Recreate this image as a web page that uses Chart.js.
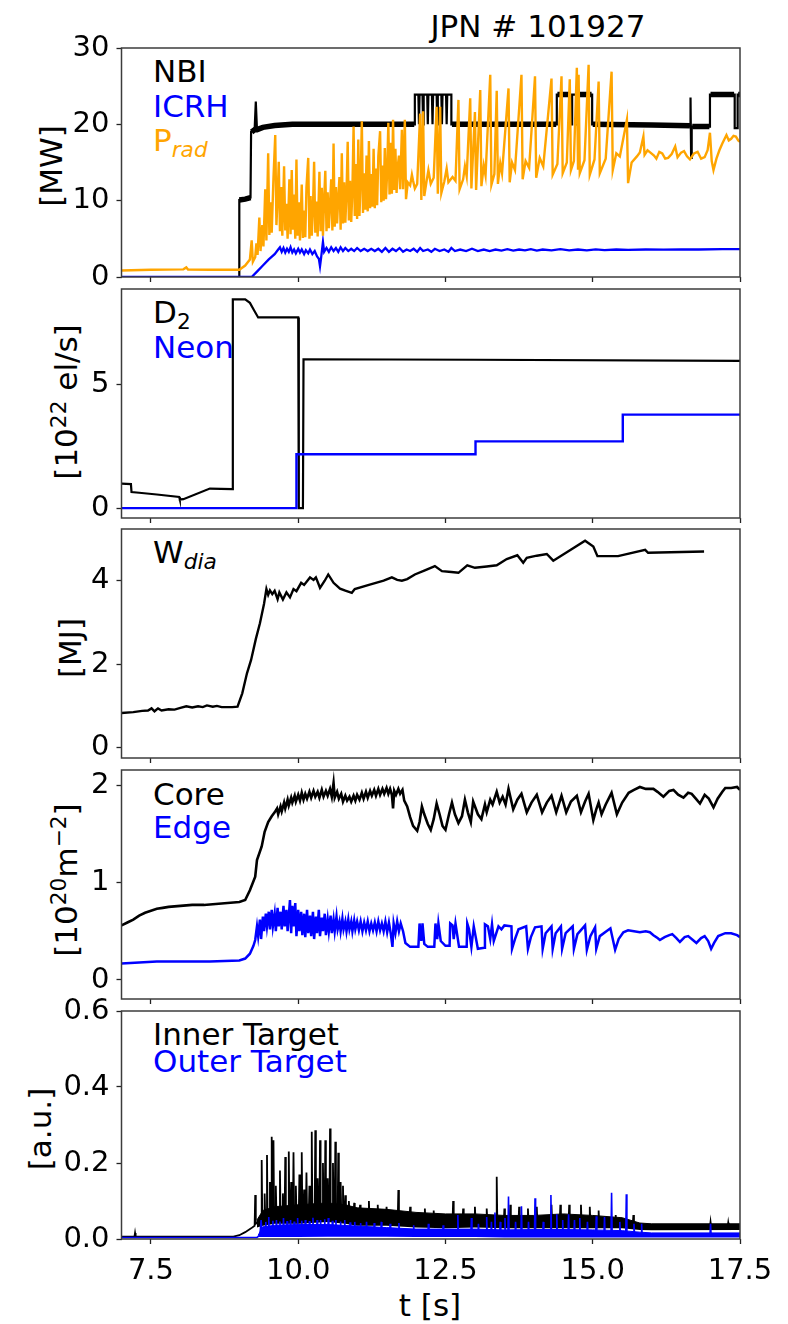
<!DOCTYPE html>
<html><head><meta charset="utf-8">
<script src="https://cdn.jsdelivr.net/npm/chart.js@4.4.0/dist/chart.umd.min.js"></script>
<style>
html,body{margin:0;padding:0;background:#fff;}
body{width:788px;height:1324px;position:relative;overflow:hidden;font-family:"DejaVu Sans",sans-serif;color:#000;}
canvas{position:absolute;left:0;}
.t{position:absolute;font-size:31px;line-height:1;white-space:nowrap;}
.yl{position:absolute;font-size:31px;line-height:1;white-space:nowrap;transform:translate(-50%,-50%) rotate(-90deg);}
sub{font-size:0.7em;vertical-align:-0.28em;line-height:0;}
sup{font-size:0.7em;vertical-align:0.5em;line-height:0;}
.blue{color:#0000ff}.orange{color:#ffa500}
</style></head>
<body>
<div class="t" style="left:338px;width:400px;text-align:center;top:10.5px;">JPN # 101927</div>
<div class="t" style="left:153px;top:55.5px;">NBI</div>
<div class="t blue" style="left:153px;top:90.5px;">ICRH</div>
<div class="t orange" style="left:153px;top:124.5px;">P<sub><i>rad</i></sub></div>
<div class="t" style="left:153px;top:297px;">D<sub>2</sub></div>
<div class="t blue" style="left:153px;top:332px;">Neon</div>
<div class="t" style="left:153px;top:537px;">W<sub><i>dia</i></sub></div>
<div class="t" style="left:153px;top:779px;">Core</div>
<div class="t blue" style="left:153px;top:812px;">Edge</div>
<div class="t" style="left:153px;top:1019px;">Inner Target</div>
<div class="t blue" style="left:153px;top:1045.5px;">Outer Target</div>
<div class="t" style="left:230px;width:400px;text-align:center;top:1290px;">t [s]</div>
<div class="yl" style="left:51px;top:166px;">[MW]</div>
<div class="yl" style="left:66px;top:402px;">[10<sup>22</sup> el/s]</div>
<div class="yl" style="left:70px;top:648px;">[MJ]</div>
<div class="yl" style="left:66px;top:880px;">[10<sup>20</sup>m<sup>−2</sup>]</div>
<div class="yl" style="left:40px;top:1129px;">[a.u.]</div>
<script>
// ---------- data (time [s], value) ----------
const xTicks = [7.5, 10.0, 12.5, 15.0, 17.5];
const y1Ticks = [0, 10, 20, 30];
const y2Ticks = [0, 5];
const y3Ticks = [0, 2, 4];
const y4Ticks = [0, 1, 2];
const y5Ticks = [0, 0.2, 0.4, 0.6];

const nbi = [[7.0,0],[9.0,0],[9.0,10.1],[9.1,10.2],[9.19,10.4],[9.2,19.0],[9.26,19.3],[9.28,23.0],[9.3,19.3],[9.4,19.6],[9.6,19.85],[9.9,20.0],[11.98,20.0],[11.98,23.9],[12.04,23.9],[12.05,20.0],[12.06,23.9],[12.11,23.9],[12.12,20.0],[12.13,23.9],[12.19,23.9],[12.2,20.0],[12.21,23.9],[12.27,23.9],[12.28,20.0],[12.29,23.9],[12.35,23.9],[12.36,20.0],[12.37,23.9],[12.43,23.9],[12.44,20.0],[12.45,23.9],[12.51,23.9],[12.52,20.0],[12.53,23.9],[12.6,23.9],[12.6,20.0],[14.39,20.0],[14.39,23.9],[14.63,23.9],[14.63,20.0],[14.65,20.0],[14.65,23.9],[14.72,23.9],[14.72,20.0],[14.76,20.0],[14.76,23.9],[14.99,23.9],[14.99,20.0],[16.0,19.9],[16.66,19.8],[16.66,23.5],[16.67,15.6],[16.68,19.7],[16.99,19.7],[16.99,23.9],[17.41,23.9],[17.41,19.5],[17.46,19.5],[17.46,23.9],[17.5,23.9]];
// steady NBI plateaus, where the fast beam modulation makes the trace a thick band (null = no plateau)
const nbiPlateau = [[9.0,10.1],[9.1,10.2],[9.19,10.4],null,[9.21,19.0],[9.26,19.3],[9.3,19.3],[9.4,19.6],[9.6,19.85],[9.9,20.0],[11.97,20.0],null,[12.61,20.0],[14.38,20.0],null,[14.4,23.9],[14.62,23.9],null,[14.77,23.9],[14.98,23.9],null,[15.0,20.0],[16.0,19.9],[16.65,19.8],null,[16.69,19.7],[16.98,19.7],null,[17.0,23.9],[17.4,23.9],null,[17.47,23.9],[17.5,23.9]];

const icrh = [[7.0,0],[9.21,0],[9.3,0.7],[9.4,1.5],[9.5,2.3],[9.6,3.0],[9.66,3.6],[9.69,3.9],[9.72,3.3],[9.75,3.8],[9.78,3.2],[9.81,3.7],[9.84,3.3],[9.87,3.9],[9.9,3.2],[9.93,3.6],[9.96,3.1],[10.0,3.7],[10.03,3.2],[10.06,3.6],[10.1,3.0],[10.13,3.5],[10.17,3.1],[10.2,3.6],[10.24,3.0],[10.28,3.4],[10.32,2.7],[10.35,2.4],[10.37,1.4],[10.39,2.6],[10.42,4.6],[10.44,3.3],[10.48,3.8],[10.52,3.3],[10.56,3.9],[10.6,3.4],[10.64,3.8],[10.68,3.3],[10.72,3.9],[10.76,3.4],[10.8,3.8],[10.85,3.4],[10.9,3.7],[10.95,3.4],[11.0,3.8],[11.06,3.4],[11.12,3.7],[11.18,3.4],[11.24,3.7],[11.3,3.4],[11.36,3.7],[11.42,3.3],[11.48,3.8],[11.54,3.3],[11.6,3.7],[11.66,3.4],[11.72,3.8],[11.78,3.3],[11.84,3.6],[11.9,3.4],[11.96,3.7],[12.02,3.3],[12.07,3.8],[12.12,3.4],[12.2,3.6],[12.26,3.3],[12.32,3.7],[12.4,3.4],[12.48,3.6],[12.55,3.3],[12.6,3.8],[12.66,3.4],[12.75,3.6],[12.85,3.4],[12.95,3.7],[13.05,3.4],[13.15,3.6],[13.25,3.4],[13.35,3.6],[13.45,3.45],[13.55,3.65],[13.65,3.45],[13.75,3.6],[13.85,3.5],[13.95,3.65],[14.05,3.45],[14.15,3.6],[14.3,3.5],[14.45,3.65],[14.6,3.5],[14.75,3.6],[14.9,3.5],[15.05,3.62],[15.2,3.52],[15.4,3.6],[15.6,3.55],[15.9,3.6],[16.2,3.58],[16.5,3.6],[16.8,3.6],[17.2,3.66],[17.5,3.66]];

const prad = [[7.0,0.85],[7.5,0.95],[8.05,1.0],[8.1,1.25],[8.13,0.97],[8.5,0.95],[9.0,0.95],[9.1,1.5],[9.18,2.3],[9.21,4.8],[9.23,2.0],[9.27,2.6],[9.29,4.4],[9.31,2.9],[9.34,7.8],[9.36,3.4],[9.39,6.8],[9.41,4.0],[9.44,11.5],[9.46,4.8],[9.49,16.2],[9.51,5.5],[9.53,9.8],[9.55,5.8],[9.58,13.0],[9.61,18.6],[9.63,6.8],[9.65,10.5],[9.67,15.1],[9.69,6.0],[9.71,11.8],[9.73,5.4],[9.76,14.5],[9.78,6.1],[9.8,9.6],[9.82,5.0],[9.85,12.8],[9.87,5.6],[9.89,14.0],[9.91,6.2],[9.93,10.8],[9.95,5.0],[9.97,15.4],[9.99,5.4],[10.01,9.8],[10.03,4.8],[10.06,12.1],[10.08,5.1],[10.1,8.7],[10.12,5.2],[10.14,11.8],[10.17,15.6],[10.19,5.0],[10.21,10.6],[10.23,5.4],[10.25,8.9],[10.27,15.1],[10.29,5.8],[10.31,9.9],[10.33,5.3],[10.36,13.8],[10.38,6.0],[10.4,11.7],[10.42,5.4],[10.44,10.2],[10.46,13.9],[10.48,6.0],[10.5,11.1],[10.52,6.4],[10.54,9.6],[10.56,12.8],[10.58,6.1],[10.6,17.5],[10.62,6.6],[10.64,11.8],[10.66,7.0],[10.68,10.4],[10.7,13.1],[10.72,6.2],[10.74,16.2],[10.76,7.0],[10.78,12.4],[10.8,7.1],[10.82,11.0],[10.84,17.7],[10.86,7.4],[10.88,12.6],[10.9,7.2],[10.92,11.5],[10.94,19.7],[10.96,8.0],[10.98,14.8],[11.0,7.6],[11.02,18.0],[11.04,8.0],[11.06,12.8],[11.08,20.4],[11.1,8.4],[11.12,13.6],[11.14,8.8],[11.16,15.9],[11.18,8.6],[11.2,17.8],[11.22,9.0],[11.24,13.5],[11.26,9.2],[11.28,16.8],[11.3,9.0],[11.32,14.2],[11.34,9.4],[11.36,15.8],[11.39,19.1],[11.41,9.8],[11.43,14.6],[11.45,10.0],[11.47,16.9],[11.49,10.2],[11.51,13.8],[11.53,20.2],[11.55,10.8],[11.57,17.6],[11.59,10.9],[11.61,20.6],[11.63,11.4],[11.65,16.8],[11.67,11.0],[11.69,14.5],[11.71,15.9],[11.73,11.5],[11.76,19.3],[11.78,11.5],[11.81,20.6],[11.83,10.2],[11.86,12.4],[11.9,12.0],[11.93,13.4],[11.95,12.6],[11.98,11.6],[12.02,12.2],[12.07,21.4],[12.09,10.1],[12.12,21.7],[12.14,10.6],[12.18,12.6],[12.21,14.0],[12.25,12.2],[12.3,13.0],[12.35,22.3],[12.37,10.9],[12.41,22.3],[12.43,11.0],[12.48,12.5],[12.52,14.2],[12.55,12.4],[12.62,13.1],[12.67,12.6],[12.72,23.2],[12.74,11.5],[12.8,12.8],[12.83,14.5],[12.86,13.2],[12.92,23.4],[12.94,11.6],[13.0,21.6],[13.02,11.4],[13.09,24.5],[13.11,11.9],[13.15,14.6],[13.18,13.3],[13.26,26.5],[13.28,12.1],[13.33,13.5],[13.37,24.4],[13.39,12.2],[13.43,14.9],[13.46,13.6],[13.57,24.7],[13.59,12.4],[13.63,15.0],[13.68,14.0],[13.79,26.5],[13.81,12.8],[13.86,15.2],[13.92,14.3],[14.02,26.3],[14.04,13.0],[14.1,15.6],[14.16,14.5],[14.3,26.0],[14.32,13.4],[14.4,14.8],[14.47,26.3],[14.49,13.6],[14.56,15.0],[14.61,25.9],[14.63,14.0],[14.68,15.2],[14.73,27.4],[14.75,14.2],[14.76,26.5],[14.78,13.6],[14.86,15.3],[14.93,27.8],[14.95,13.4],[15.03,15.4],[15.1,25.6],[15.12,13.6],[15.22,15.5],[15.32,26.9],[15.34,14.0],[15.4,16.2],[15.46,15.8],[15.58,20.6],[15.6,12.3],[15.66,15.0],[15.75,15.8],[15.8,16.3],[15.86,18.4],[15.88,16.0],[15.93,16.6],[15.98,16.3],[16.04,15.9],[16.08,15.5],[16.13,16.4],[16.18,16.2],[16.23,15.5],[16.28,15.6],[16.34,16.1],[16.4,17.1],[16.44,15.7],[16.5,16.3],[16.55,16.5],[16.6,15.8],[16.65,15.4],[16.72,16.2],[16.78,16.4],[16.84,15.5],[16.9,15.7],[16.95,16.6],[16.99,18.9],[17.02,15.2],[17.05,14.0],[17.1,15.5],[17.15,16.6],[17.2,17.5],[17.27,18.6],[17.31,17.9],[17.35,18.1],[17.39,18.5],[17.43,18.4],[17.47,17.9],[17.5,17.7]];

const d2 = [[7.0,0.99],[7.16,0.97],[7.17,0.65],[7.3,0.62],[7.6,0.55],[7.98,0.45],[7.99,0.35],[8.05,0.36],[8.5,0.79],[8.88,0.77],[8.89,8.44],[9.1,8.44],[9.18,8.3],[9.25,8.0],[9.32,7.71],[10.0,7.71],[10.01,0.0],[10.08,0.0],[10.09,6.02],[13.0,6.0],[17.5,5.95]];
const neon = [[7.0,0],[9.97,0],[9.97,2.18],[13.01,2.18],[13.01,2.70],[15.51,2.70],[15.51,3.78],[17.5,3.78]];

const wdia = [[7.0,0.83],[7.2,0.85],[7.35,0.88],[7.45,0.89],[7.51,0.94],[7.56,0.87],[7.62,0.94],[7.68,0.89],[7.8,0.92],[7.9,0.91],[8.0,0.95],[8.1,0.99],[8.2,0.96],[8.3,0.99],[8.38,0.97],[8.45,1.01],[8.55,0.98],[8.62,1.0],[8.7,0.97],[8.88,0.97],[8.97,0.98],[9.05,1.3],[9.13,1.78],[9.2,2.1],[9.28,2.6],[9.35,2.98],[9.42,3.45],[9.46,3.8],[9.49,3.66],[9.52,3.77],[9.56,3.68],[9.6,3.76],[9.65,3.56],[9.68,3.72],[9.74,3.55],[9.8,3.72],[9.86,3.6],[9.92,3.8],[9.97,3.75],[10.05,3.95],[10.1,3.9],[10.2,4.08],[10.26,4.02],[10.3,4.08],[10.37,3.83],[10.45,4.0],[10.51,4.15],[10.6,3.95],[10.71,3.81],[10.8,3.76],[10.91,3.71],[10.96,3.8],[11.2,3.9],[11.45,4.0],[11.59,4.08],[11.68,4.02],[11.76,4.0],[11.85,4.04],[11.98,4.15],[12.15,4.25],[12.32,4.35],[12.44,4.23],[12.6,4.21],[12.72,4.19],[12.87,4.37],[13.0,4.31],[13.2,4.34],[13.37,4.37],[13.54,4.52],[13.72,4.61],[13.82,4.43],[13.88,4.55],[14.05,4.6],[14.22,4.64],[14.33,4.48],[14.6,4.72],[14.87,4.96],[15.01,4.82],[15.08,4.59],[15.43,4.59],[15.89,4.74],[15.94,4.67],[16.89,4.7]];

const core = [[7.0,0.56],[7.1,0.59],[7.2,0.62],[7.3,0.66],[7.4,0.69],[7.5,0.71],[7.6,0.73],[7.7,0.74],[7.8,0.75],[8.0,0.76],[8.2,0.77],[8.4,0.77],[8.6,0.78],[8.8,0.79],[9.0,0.80],[9.1,0.82],[9.18,0.92],[9.27,1.06],[9.3,1.23],[9.38,1.37],[9.43,1.52],[9.49,1.62],[9.55,1.68],[9.6,1.72],[9.64,1.76],[9.66,1.70],[9.7,1.78],[9.72,1.73],[9.76,1.82],[9.78,1.76],[9.82,1.85],[9.84,1.79],[9.88,1.87],[9.9,1.82],[9.94,1.89],[9.96,1.83],[10.0,1.90],[10.03,1.84],[10.06,1.92],[10.09,1.85],[10.12,1.91],[10.15,1.86],[10.19,1.93],[10.22,1.87],[10.26,1.94],[10.29,1.88],[10.33,1.93],[10.36,1.87],[10.4,1.95],[10.43,1.88],[10.47,1.94],[10.5,1.89],[10.54,1.96],[10.57,1.88],[10.6,2.02],[10.62,1.87],[10.66,1.93],[10.69,1.86],[10.73,1.91],[10.76,1.83],[10.8,1.89],[10.83,1.84],[10.87,1.88],[10.9,1.83],[10.94,1.89],[10.97,1.84],[11.0,1.90],[11.04,1.85],[11.08,1.92],[11.11,1.86],[11.15,1.93],[11.18,1.87],[11.22,1.94],[11.25,1.89],[11.29,1.95],[11.32,1.89],[11.36,1.96],[11.39,1.90],[11.43,1.96],[11.46,1.91],[11.5,1.97],[11.53,1.91],[11.56,1.96],[11.59,1.90],[11.61,1.76],[11.63,1.94],[11.66,1.90],[11.7,1.96],[11.73,1.91],[11.77,1.95],[11.8,1.84],[11.85,1.78],[11.9,1.67],[11.95,1.58],[12.02,1.53],[12.06,1.62],[12.1,1.78],[12.14,1.70],[12.2,1.60],[12.25,1.54],[12.3,1.65],[12.35,1.81],[12.4,1.70],[12.45,1.58],[12.5,1.54],[12.56,1.70],[12.61,1.82],[12.66,1.70],[12.72,1.61],[12.78,1.68],[12.83,1.85],[12.88,1.72],[12.93,1.62],[12.97,1.83],[13.05,1.70],[13.11,1.65],[13.17,1.80],[13.2,1.72],[13.26,1.85],[13.3,1.80],[13.37,1.93],[13.42,1.82],[13.47,1.88],[13.52,1.80],[13.57,1.96],[13.65,1.75],[13.72,1.85],[13.79,1.91],[13.88,1.72],[13.96,1.82],[14.05,1.90],[14.14,1.72],[14.22,1.82],[14.3,1.89],[14.38,1.72],[14.47,1.89],[14.55,1.72],[14.63,1.83],[14.73,1.89],[14.8,1.72],[14.87,1.83],[14.93,1.91],[15.01,1.64],[15.06,1.75],[15.1,1.82],[15.15,1.70],[15.22,1.80],[15.32,1.92],[15.41,1.70],[15.5,1.82],[15.61,1.92],[15.7,1.95],[15.8,1.98],[15.9,1.96],[16.03,1.96],[16.1,1.93],[16.2,1.88],[16.3,1.94],[16.37,1.95],[16.45,1.90],[16.54,1.87],[16.62,1.92],[16.68,1.91],[16.75,1.86],[16.82,1.81],[16.9,1.90],[16.97,1.86],[17.05,1.77],[17.12,1.86],[17.2,1.93],[17.25,1.97],[17.35,1.97],[17.45,1.98],[17.5,1.95]];

const edge = [[7.0,0.17],[7.3,0.18],[7.6,0.19],[8.0,0.19],[8.5,0.19],[9.0,0.20],[9.1,0.22],[9.18,0.27],[9.24,0.35],[9.27,0.41],[9.3,0.55],[9.32,0.45],[9.35,0.62],[9.37,0.42],[9.4,0.65],[9.42,0.50],[9.45,0.68],[9.47,0.55],[9.5,0.70],[9.52,0.52],[9.55,0.72],[9.57,0.55],[9.6,0.68],[9.62,0.50],[9.65,0.74],[9.67,0.55],[9.7,0.70],[9.72,0.52],[9.75,0.76],[9.77,0.55],[9.8,0.72],[9.82,0.50],[9.86,0.82],[9.88,0.48],[9.9,0.76],[9.92,0.55],[9.95,0.79],[9.97,0.45],[10.0,0.72],[10.02,0.50],[10.05,0.70],[10.07,0.46],[10.1,0.68],[10.12,0.44],[10.15,0.72],[10.17,0.48],[10.2,0.66],[10.22,0.45],[10.25,0.70],[10.27,0.42],[10.3,0.65],[10.32,0.48],[10.35,0.72],[10.37,0.45],[10.4,0.64],[10.42,0.50],[10.45,0.68],[10.47,0.46],[10.5,0.62],[10.52,0.50],[10.55,0.66],[10.57,0.48],[10.6,0.62],[10.62,0.50],[10.65,0.65],[10.67,0.52],[10.7,0.60],[10.72,0.50],[10.75,0.63],[10.77,0.52],[10.8,0.60],[10.82,0.50],[10.85,0.62],[10.87,0.52],[10.9,0.60],[10.92,0.50],[10.95,0.61],[10.97,0.52],[11.0,0.60],[11.03,0.51],[11.06,0.60],[11.09,0.50],[11.12,0.59],[11.15,0.51],[11.18,0.60],[11.21,0.50],[11.24,0.58],[11.27,0.51],[11.3,0.59],[11.33,0.50],[11.36,0.60],[11.39,0.51],[11.42,0.58],[11.45,0.50],[11.48,0.60],[11.51,0.49],[11.54,0.59],[11.57,0.48],[11.6,0.34],[11.62,0.58],[11.65,0.48],[11.68,0.60],[11.71,0.50],[11.74,0.58],[11.78,0.50],[11.82,0.38],[11.9,0.34],[12.04,0.34],[12.06,0.58],[12.09,0.40],[12.11,0.58],[12.14,0.37],[12.2,0.34],[12.31,0.34],[12.33,0.58],[12.36,0.42],[12.38,0.58],[12.42,0.40],[12.5,0.35],[12.57,0.35],[12.58,0.58],[12.62,0.56],[12.64,0.42],[12.67,0.58],[12.73,0.34],[12.86,0.34],[12.87,0.58],[12.9,0.52],[12.94,0.34],[12.98,0.55],[13.05,0.32],[13.16,0.33],[13.17,0.57],[13.22,0.55],[13.26,0.42],[13.29,0.57],[13.32,0.40],[13.40,0.55],[13.45,0.52],[13.5,0.56],[13.62,0.55],[13.63,0.32],[13.68,0.42],[13.74,0.52],[13.87,0.55],[13.9,0.32],[13.95,0.44],[14.02,0.54],[14.13,0.55],[14.15,0.32],[14.2,0.48],[14.3,0.55],[14.32,0.32],[14.37,0.48],[14.46,0.55],[14.48,0.32],[14.54,0.48],[14.66,0.55],[14.68,0.32],[14.74,0.47],[14.87,0.56],[14.9,0.31],[14.96,0.45],[15.04,0.54],[15.06,0.32],[15.12,0.45],[15.3,0.53],[15.38,0.31],[15.44,0.42],[15.52,0.49],[15.6,0.51],[15.7,0.50],[15.8,0.49],[15.9,0.50],[15.97,0.49],[16.03,0.46],[16.1,0.43],[16.14,0.41],[16.22,0.44],[16.3,0.46],[16.35,0.47],[16.42,0.43],[16.48,0.39],[16.56,0.44],[16.62,0.45],[16.7,0.41],[16.76,0.38],[16.84,0.43],[16.9,0.45],[16.96,0.40],[17.01,0.32],[17.06,0.38],[17.13,0.45],[17.25,0.48],[17.35,0.48],[17.45,0.46],[17.5,0.44]];

// divertor target signals: line with peaks, plus dense-band envelope [t, low, high]
const inner = [[7.0,0.006],[7.22,0.006],[7.23,0.016],[7.24,0.006],[8.9,0.006],[9.0,0.01],[9.1,0.018],[9.2,0.028],[9.26,0.035],[9.27,0.116],[9.28,0.04],[9.37,0.05],[9.38,0.208],[9.39,0.055],[9.42,0.06],[9.43,0.12],[9.44,0.06],[9.46,0.06],[9.47,0.221],[9.48,0.06],[9.51,0.065],[9.52,0.15],[9.53,0.065],[9.54,0.065],[9.55,0.269],[9.56,0.065],[9.57,0.065],[9.58,0.26],[9.59,0.065],[9.61,0.07],[9.62,0.14],[9.63,0.07],[9.68,0.07],[9.69,0.18],[9.7,0.07],[9.73,0.07],[9.74,0.12],[9.75,0.07],[9.77,0.07],[9.78,0.216],[9.79,0.07],[9.83,0.07],[9.84,0.23],[9.85,0.07],[9.87,0.07],[9.88,0.15],[9.89,0.07],[9.91,0.07],[9.92,0.228],[9.93,0.07],[9.95,0.07],[9.96,0.14],[9.97,0.07],[10.01,0.07],[10.02,0.17],[10.03,0.07],[10.05,0.07],[10.06,0.228],[10.07,0.07],[10.09,0.07],[10.1,0.13],[10.11,0.07],[10.13,0.07],[10.14,0.175],[10.15,0.07],[10.18,0.07],[10.19,0.14],[10.2,0.07],[10.22,0.075],[10.23,0.282],[10.24,0.075],[10.28,0.075],[10.29,0.286],[10.3,0.075],[10.32,0.075],[10.33,0.16],[10.34,0.075],[10.36,0.075],[10.37,0.26],[10.38,0.075],[10.41,0.075],[10.42,0.2],[10.43,0.075],[10.45,0.075],[10.46,0.26],[10.47,0.075],[10.49,0.075],[10.5,0.16],[10.51,0.075],[10.53,0.075],[10.54,0.291],[10.55,0.075],[10.58,0.075],[10.59,0.2],[10.6,0.075],[10.62,0.075],[10.63,0.256],[10.64,0.075],[10.67,0.075],[10.68,0.227],[10.69,0.075],[10.71,0.075],[10.72,0.15],[10.73,0.075],[10.75,0.07],[10.76,0.14],[10.77,0.07],[10.79,0.07],[10.8,0.115],[10.81,0.07],[10.85,0.07],[10.86,0.1],[10.87,0.07],[10.94,0.065],[10.95,0.095],[10.96,0.065],[11.04,0.065],[11.05,0.09],[11.06,0.065],[11.19,0.06],[11.2,0.1],[11.21,0.06],[11.34,0.06],[11.35,0.09],[11.36,0.06],[11.49,0.06],[11.5,0.085],[11.51,0.06],[11.69,0.055],[11.7,0.129],[11.71,0.055],[11.89,0.055],[11.9,0.085],[11.91,0.05],[12.14,0.05],[12.15,0.08],[12.16,0.05],[12.29,0.05],[12.3,0.075],[12.31,0.045],[12.62,0.045],[12.63,0.1],[12.64,0.05],[12.79,0.05],[12.8,0.08],[12.81,0.05],[12.99,0.05],[13.0,0.085],[13.01,0.05],[13.19,0.05],[13.2,0.08],[13.21,0.05],[13.36,0.05],[13.37,0.164],[13.38,0.045],[13.49,0.045],[13.5,0.08],[13.51,0.045],[13.59,0.045],[13.6,0.09],[13.61,0.045],[13.74,0.045],[13.75,0.085],[13.76,0.045],[13.89,0.045],[13.9,0.08],[13.91,0.045],[14.04,0.045],[14.05,0.085],[14.06,0.045],[14.29,0.045],[14.3,0.09],[14.31,0.045],[14.44,0.045],[14.45,0.09],[14.46,0.045],[14.59,0.045],[14.6,0.09],[14.61,0.045],[14.79,0.045],[14.8,0.09],[14.81,0.045],[14.94,0.045],[14.95,0.085],[14.96,0.045],[15.09,0.045],[15.1,0.075],[15.11,0.04],[15.38,0.04],[15.39,0.063],[15.4,0.04],[15.68,0.04],[15.69,0.063],[15.7,0.035],[15.8,0.032],[16.99,0.032],[17.0,0.045],[17.01,0.032],[17.29,0.032],[17.3,0.043],[17.31,0.032],[17.5,0.032]];
const innerBand = [[9.3,0.03,0.05],[9.4,0.035,0.075],[9.6,0.04,0.085],[10.0,0.04,0.09],[10.5,0.045,0.095],[10.8,0.04,0.09],[11.0,0.035,0.082],[11.5,0.035,0.078],[12.0,0.03,0.07],[12.5,0.028,0.066],[13.0,0.03,0.066],[13.5,0.028,0.062],[14.0,0.028,0.062],[14.5,0.028,0.066],[15.0,0.028,0.062],[15.5,0.028,0.056],[15.8,0.024,0.042],[16.0,0.023,0.04],[17.5,0.024,0.04]];

const outer = [[7.0,0.004],[9.3,0.004],[9.35,0.01],[9.37,0.05],[9.39,0.012],[9.44,0.012],[9.45,0.045],[9.46,0.012],[9.49,0.012],[9.5,0.058],[9.51,0.012],[9.56,0.012],[9.57,0.048],[9.58,0.012],[9.62,0.012],[9.63,0.05],[9.64,0.012],[9.68,0.012],[9.69,0.046],[9.7,0.012],[9.74,0.012],[9.75,0.055],[9.76,0.012],[9.8,0.012],[9.81,0.047],[9.82,0.012],[9.86,0.012],[9.87,0.05],[9.88,0.012],[9.92,0.012],[9.93,0.046],[9.94,0.012],[9.98,0.012],[9.99,0.055],[10.0,0.012],[10.05,0.012],[10.06,0.048],[10.07,0.012],[10.11,0.012],[10.12,0.05],[10.13,0.012],[10.18,0.012],[10.19,0.047],[10.2,0.012],[10.24,0.012],[10.25,0.056],[10.26,0.012],[10.31,0.012],[10.32,0.05],[10.33,0.012],[10.37,0.012],[10.38,0.05],[10.39,0.012],[10.44,0.012],[10.45,0.052],[10.46,0.012],[10.5,0.012],[10.51,0.055],[10.52,0.012],[10.57,0.012],[10.58,0.048],[10.59,0.012],[10.63,0.012],[10.64,0.05],[10.65,0.012],[10.71,0.012],[10.72,0.046],[10.73,0.012],[10.78,0.012],[10.79,0.05],[10.8,0.012],[10.87,0.012],[10.88,0.044],[10.89,0.012],[10.95,0.012],[10.96,0.045],[10.97,0.012],[11.05,0.012],[11.06,0.042],[11.07,0.012],[11.15,0.012],[11.16,0.045],[11.17,0.012],[11.28,0.012],[11.29,0.042],[11.3,0.012],[11.4,0.01],[11.41,0.045],[11.42,0.01],[11.55,0.01],[11.56,0.04],[11.57,0.01],[11.7,0.01],[11.71,0.042],[11.72,0.01],[11.95,0.01],[11.96,0.036],[11.97,0.01],[12.2,0.01],[12.21,0.04],[12.22,0.01],[12.45,0.01],[12.46,0.036],[12.47,0.01],[12.7,0.01],[12.71,0.063],[12.72,0.01],[12.93,0.01],[12.94,0.055],[12.95,0.01],[13.05,0.01],[13.06,0.04],[13.07,0.01],[13.19,0.01],[13.2,0.058],[13.21,0.01],[13.27,0.01],[13.28,0.045],[13.29,0.01],[13.33,0.01],[13.34,0.07],[13.35,0.01],[13.42,0.01],[13.43,0.045],[13.44,0.01],[13.5,0.01],[13.51,0.055],[13.52,0.01],[13.56,0.01],[13.57,0.112],[13.58,0.01],[13.68,0.01],[13.69,0.045],[13.7,0.01],[13.78,0.01],[13.79,0.086],[13.8,0.01],[13.9,0.01],[13.91,0.045],[13.92,0.01],[14.01,0.01],[14.02,0.107],[14.03,0.01],[14.15,0.01],[14.16,0.045],[14.17,0.01],[14.28,0.01],[14.29,0.116],[14.3,0.01],[14.38,0.01],[14.39,0.065],[14.4,0.01],[14.48,0.01],[14.49,0.05],[14.5,0.01],[14.58,0.01],[14.59,0.065],[14.6,0.01],[14.68,0.01],[14.69,0.05],[14.7,0.01],[14.77,0.01],[14.78,0.055],[14.79,0.01],[14.9,0.01],[14.91,0.045],[14.92,0.01],[15.05,0.01],[15.06,0.06],[15.07,0.01],[15.19,0.01],[15.2,0.058],[15.21,0.01],[15.31,0.01],[15.32,0.122],[15.33,0.01],[15.45,0.01],[15.46,0.045],[15.47,0.01],[15.56,0.01],[15.57,0.118],[15.58,0.01],[15.69,0.01],[15.7,0.04],[15.71,0.01],[15.82,0.01],[15.83,0.04],[15.84,0.008],[16.99,0.008],[17.0,0.04],[17.01,0.008],[17.5,0.008]];
const outerBand = [[9.32,0.005,0.01],[9.4,0.005,0.032],[9.6,0.005,0.036],[10.0,0.005,0.038],[10.5,0.006,0.038],[11.0,0.006,0.034],[11.5,0.006,0.03],[12.0,0.005,0.026],[12.5,0.005,0.026],[13.0,0.005,0.026],[13.5,0.004,0.024],[14.0,0.004,0.025],[14.5,0.004,0.025],[15.0,0.004,0.024],[15.5,0.004,0.022],[15.8,0.004,0.018],[16.0,0.004,0.016],[17.5,0.004,0.016]];

// ---------- drawing ----------
const BLACK = '#000000', BLUE = '#0000ff', ORANGE = '#ffa500';
const FONT = {family: '"DejaVu Sans", sans-serif', size: 29};
const pts = a => a.map(p => p === null ? {x: null, y: null} : ({x: p[0], y: p[1]}));
const lo = a => a.map(p => ({x: p[0], y: p[1]}));
const hi = a => a.map(p => ({x: p[0], y: p[2]}));

const frame = {id: 'frame', afterDraw(c) {
  const a = c.chartArea, ctx = c.ctx;
  ctx.save(); ctx.strokeStyle = '#3c3c3c'; ctx.lineWidth = 1.5;
  ctx.strokeRect(a.left, a.top, a.right - a.left, a.bottom - a.top);
  ctx.restore();
}};

function line(data, color, width, order, extra) {
  return Object.assign({data: pts(data), borderColor: color, backgroundColor: color, borderWidth: width,
    pointRadius: 0, tension: 0, fill: false, order: order, spanGaps: false}, extra || {});
}

function panel(id, top, bottom, yMin, yMax, yTicks, yFmt, datasets, bottomAxis) {
  const padTop = 30, xh = bottomAxis ? 80 : 30;
  const cv = document.createElement('canvas');
  const h = (bottom - top) + padTop + xh;
  cv.width = 788; cv.height = h; cv.style.top = (top - padTop) + 'px';
  cv.style.width = '788px'; cv.style.height = h + 'px';
  cv.id = id;
  document.body.appendChild(cv);
  new Chart(cv, {
    type: 'line',
    data: {datasets: datasets},
    options: {
      responsive: false, animation: false, devicePixelRatio: 1,
      layout: {padding: {top: padTop, right: 48, left: 0, bottom: 0}},
      plugins: {legend: {display: false}, tooltip: {enabled: false}},
      scales: {
        x: {type: 'linear', min: 7, max: 17.5,
          afterBuildTicks: s => { s.ticks = xTicks.map(v => ({value: v})); },
          afterFit: s => { s.height = xh; },
          ticks: {display: !!bottomAxis, font: FONT, color: '#000', padding: 10, maxRotation: 0, autoSkip: false,
            callback: v => Number(v).toFixed(1)},
          grid: {drawOnChartArea: false, drawTicks: true, tickLength: 5, tickColor: '#222', tickWidth: 1.3},
          border: {display: false}},
        y: {type: 'linear', min: yMin, max: yMax,
          afterBuildTicks: s => { s.ticks = yTicks.map(v => ({value: v})); },
          afterFit: s => { s.width = 121.5; },
          ticks: {font: FONT, color: '#000', padding: 7, autoSkip: false, callback: yFmt},
          grid: {drawOnChartArea: false, drawTicks: true, tickLength: 5, tickColor: '#222', tickWidth: 1.3},
          border: {display: false}}
      }
    },
    plugins: [frame]
  });
}

const fInt = v => String(v);
const f1 = v => Number(v).toFixed(1);

panel('p1', 48, 277, 0, 30, y1Ticks, fInt, [
  line(nbi, BLACK, 2.2, 4),
  line(nbiPlateau, BLACK, 5.5, 3),
  line(icrh, BLUE, 2.3, 2),
  line(prad, ORANGE, 2.4, 1)
]);
panel('p2', 289, 518, -0.40, 8.86, y2Ticks, fInt, [
  line(d2, BLACK, 2.2, 2),
  line(neon, BLUE, 2.4, 1)
]);
panel('p3', 529, 758, -0.25, 5.24, y3Ticks, fInt, [
  line(wdia, BLACK, 2.4, 1)
]);
panel('p4', 770, 999, -0.195, 2.154, y4Ticks, fInt, [
  line(core, BLACK, 2.6, 2),
  line(edge, BLUE, 2.5, 1)
]);
panel('p5', 1011, 1239, 0, 0.6, y5Ticks, f1, [
  {data: lo(innerBand), borderWidth: 0, pointRadius: 0, fill: false, order: 4, borderColor: BLACK},
  {data: hi(innerBand), borderWidth: 1, pointRadius: 0, fill: '-1', order: 4, borderColor: BLACK, backgroundColor: BLACK},
  line(inner, BLACK, 1.8, 3),
  {data: lo(outerBand), borderWidth: 0, pointRadius: 0, fill: false, order: 2, borderColor: BLUE},
  {data: hi(outerBand), borderWidth: 1, pointRadius: 0, fill: '-1', order: 2, borderColor: BLUE, backgroundColor: BLUE},
  line(outer, BLUE, 1.6, 1)
], true);
</script>
</body></html>
